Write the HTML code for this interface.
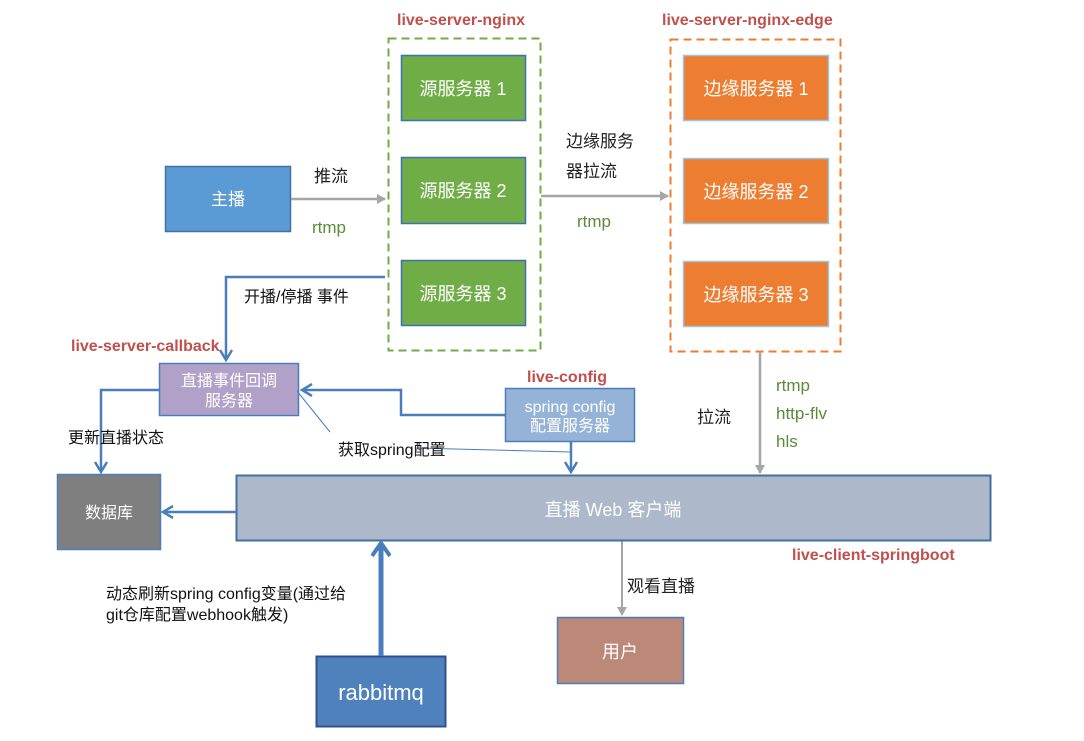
<!DOCTYPE html>
<html><head><meta charset="utf-8"><style>
html,body{margin:0;padding:0;background:#fff;}
svg{display:block;font-family:"Liberation Sans","Noto Sans CJK SC",sans-serif;}
</style></head><body>
<svg width="1084" height="741" viewBox="0 0 1084 741" xmlns="http://www.w3.org/2000/svg">
<defs>
<marker id="ag" markerWidth="10" markerHeight="10" refX="8" refY="5" orient="auto" markerUnits="userSpaceOnUse"><path d="M0,0 L9,5 L0,10 z" fill="#a6a6a6"/></marker>
<marker id="ab" markerWidth="14" markerHeight="14" refX="11" refY="7" orient="auto" markerUnits="userSpaceOnUse"><path d="M1,1 L11,7 L1,13" fill="none" stroke="#4a7ebb" stroke-width="2.5"/></marker>
<marker id="abb" markerWidth="20" markerHeight="20" refX="15" refY="10" orient="auto" markerUnits="userSpaceOnUse"><path d="M2,1 L15,10 L2,19" fill="none" stroke="#4a7ebb" stroke-width="4"/></marker>
</defs>

<!-- titles -->
<g font-weight="bold" fill="#c0504d" font-size="16">
<text x="397" y="25">live-server-nginx</text>
<text x="662" y="25">live-server-nginx-edge</text>
<text x="71" y="351">live-server-callback</text>
<text x="527" y="382">live-config</text>
<text x="792" y="560">live-client-springboot</text>
</g>

<!-- dashed groups -->
<rect x="388.5" y="38.5" width="152" height="312" fill="none" stroke="#70ad47" stroke-width="2" stroke-dasharray="8,5"/>
<rect x="670.5" y="39.5" width="170" height="312" fill="none" stroke="#ed7d31" stroke-width="2" stroke-dasharray="8,5"/>

<!-- 主播 -->
<rect x="165.5" y="166.5" width="125" height="65" fill="#5b9bd5" stroke="#41719c" stroke-width="1.5"/>
<text x="228" y="205" fill="#fff" font-size="17" text-anchor="middle">主播</text>

<!-- source servers -->
<g fill="#70ad47" stroke="#3e6fb0" stroke-width="1.5">
<rect x="401.5" y="55.5" width="124" height="65"/>
<rect x="401.5" y="157.5" width="124" height="66"/>
<rect x="401.5" y="260.5" width="124" height="65"/>
</g>
<g fill="#fff" font-size="18" text-anchor="middle">
<text x="463" y="95">源服务器 1</text>
<text x="463" y="197">源服务器 2</text>
<text x="463" y="300">源服务器 3</text>
</g>

<!-- edge servers -->
<g fill="#ed7d31" stroke="#9dc3e6" stroke-width="1.5">
<rect x="683.5" y="55.5" width="145" height="65"/>
<rect x="683.5" y="158.5" width="145" height="65"/>
<rect x="683.5" y="261.5" width="145" height="65"/>
</g>
<g fill="#fff" font-size="18" text-anchor="middle">
<text x="756" y="95">边缘服务器 1</text>
<text x="756" y="198">边缘服务器 2</text>
<text x="756" y="301">边缘服务器 3</text>
</g>

<!-- gray arrows -->
<g stroke="#a6a6a6" stroke-width="2.5" fill="none">
<line x1="291" y1="199" x2="385" y2="199" marker-end="url(#ag)"/>
<line x1="541" y1="196" x2="668" y2="196" marker-end="url(#ag)"/>
<line x1="760" y1="352" x2="760" y2="473" marker-end="url(#ag)"/>
<line x1="622" y1="541" x2="622" y2="615" marker-end="url(#ag)" stroke-width="2"/>
</g>
<g font-size="17" fill="#222">
<text x="314" y="182">推流</text>
<text x="566" y="147">边缘服务</text>
<text x="566" y="177">器拉流</text>
<text x="697" y="423">拉流</text>
<text x="627" y="592">观看直播</text>
</g>
<g font-size="17" fill="#5b8a3a">
<text x="312" y="233">rtmp</text>
<text x="577" y="227">rtmp</text>
<text x="776" y="391">rtmp</text>
<text x="776" y="419">http-flv</text>
<text x="776" y="447">hls</text>
</g>

<!-- callback -->
<rect x="159.5" y="363.5" width="139" height="52" fill="#b1a0c7" stroke="#4a7ebb" stroke-width="1.5"/>
<text x="229" y="386" fill="#fff" font-size="16" text-anchor="middle">直播事件回调</text>
<text x="229" y="406" fill="#fff" font-size="16" text-anchor="middle">服务器</text>

<!-- config -->
<rect x="505.5" y="388.5" width="129" height="53" fill="#95b3d7" stroke="#4a7ebb" stroke-width="1.5"/>
<text x="570" y="412" fill="#fff" font-size="16" text-anchor="middle">spring config</text>
<text x="570" y="431" fill="#fff" font-size="16" text-anchor="middle">配置服务器</text>

<!-- db -->
<rect x="57.5" y="474.5" width="103" height="75" fill="#7f7f7f" stroke="#4a7ebb" stroke-width="1.5"/>
<text x="109" y="518" fill="#fff" font-size="16" text-anchor="middle">数据库</text>

<!-- web client -->
<rect x="236.5" y="475.5" width="754" height="65" fill="#adb9ca" stroke="#41719c" stroke-width="2"/>
<text x="613" y="516" fill="#fff" font-size="18" text-anchor="middle">直播 Web 客户端</text>

<!-- user -->
<rect x="557.5" y="617.5" width="126" height="66" fill="#bc8878" stroke="#4a7ebb" stroke-width="1.5"/>
<text x="620" y="658" fill="#fff" font-size="18" text-anchor="middle">用户</text>

<!-- rabbitmq -->
<rect x="316.5" y="656.5" width="129" height="70" fill="#4f81bd" stroke="#2f528f" stroke-width="2"/>
<text x="381" y="700" fill="#fff" font-size="22" text-anchor="middle">rabbitmq</text>

<!-- blue connectors -->
<g stroke="#4a7ebb" stroke-width="2.5" fill="none">
<polyline points="385,277 226,277 226,360" marker-end="url(#ab)"/>
<polyline points="159,390 101,390 101,472" marker-end="url(#ab)"/>
<polyline points="505,415 401,415 401,390 302,390" marker-end="url(#ab)"/>
<line x1="571" y1="442" x2="571" y2="472" marker-end="url(#ab)"/>
<line x1="236" y1="512" x2="163" y2="512" marker-end="url(#ab)"/>
<line x1="381" y1="656" x2="381" y2="543" stroke-width="5" marker-end="url(#abb)"/>
</g>
<g stroke="#4a7ebb" stroke-width="1" fill="none">
<line x1="297" y1="391" x2="330" y2="432"/>
<line x1="415" y1="448" x2="571" y2="452"/>
</g>
<g font-size="16" fill="#111">
<text x="244" y="302">开播/停播 事件</text>
<text x="68" y="443">更新直播状态</text>
<text x="338" y="455">获取spring配置</text>
<text x="106" y="599">动态刷新spring config变量(通过给</text>
<text x="106" y="620">git仓库配置webhook触发)</text>
</g>
</svg>
</body></html>
